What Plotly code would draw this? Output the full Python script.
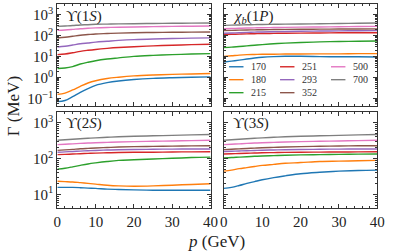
import math
import plotly.graph_objects as go

# ---------------- data ----------------
P = [0, 2, 4, 6, 8, 10, 13, 16, 20, 25, 30, 35, 40]
T_LABELS = ["170", "180", "215", "251", "293", "352", "500", "700"]
COLORS = ["#1f77b4", "#ff7f0e", "#2ca02c", "#d62728", "#9467bd", "#8c564b", "#e377c2", "#7f7f7f"]

U1S = [
    [0.072, 0.082, 0.125, 0.20, 0.30, 0.43, 0.58, 0.70, 0.82, 0.93, 1.0, 1.05, 1.1],
    [0.16, 0.185, 0.26, 0.39, 0.56, 0.72, 0.92, 1.06, 1.22, 1.35, 1.45, 1.51, 1.58],
    [2.75, 2.9, 3.4, 4.5, 5.5, 6.5, 7.8, 8.9, 10.5, 11.7, 12.6, 13.5, 14.1],
    [12.6, 13.5, 15.5, 18.2, 20.4, 22.4, 25.1, 27.5, 30.2, 33.1, 35.5, 38.0, 39.8],
    [29.5, 31.6, 36.3, 41.7, 45.7, 50.1, 55.0, 60.3, 66.1, 70.8, 74.1, 77.6, 79.4],
    [79, 85, 95, 107, 115, 123, 129, 135, 141, 145, 148, 150, 151],
    [182, 191, 204, 219, 229, 240, 251, 257, 263, 275, 282, 288, 295],
    [282, 295, 309, 331, 339, 355, 363, 372, 380, 389, 398, 403, 407],
]
CHI1P = [
    [5.6, 6.2, 6.9, 7.8, 8.7, 9.5, 10.2, 10.5, 10.5, 10.2, 10.0, 10.0, 9.8],
    [10.5, 11.2, 12.0, 12.6, 12.9, 13.2, 13.2, 13.5, 13.5, 13.8, 13.8, 14.1, 14.1],
    [27.5, 28.8, 30.9, 33.1, 35.5, 38.0, 41.7, 44.7, 47.9, 51.3, 53.7, 55.0, 56.2],
    [115, 118, 121, 124, 126, 128, 131, 133, 135, 137, 139, 140, 141],
    [132, 136, 141, 146, 150, 153, 157, 161, 165, 169, 173, 175, 178],
    [178, 182, 186, 190, 193, 196, 199, 202, 205, 208, 210, 212, 214],
    [219, 224, 230, 236, 240, 244, 249, 254, 259, 265, 272, 278, 282],
    [316, 323, 330, 337, 343, 349, 355, 361, 368, 377, 387, 397, 407],
]
U2S = [
    [15.8, 15.8, 15.8, 15.5, 15.1, 14.8, 14.1, 13.8, 13.5, 13.2, 13.2, 13.2, 13.2],
    [23.4, 22.9, 22.4, 21.4, 20.4, 19.5, 18.2, 17.4, 17.0, 17.4, 18.2, 19.1, 20.0],
    [51, 54, 59, 65, 71, 76, 83, 89, 93, 98, 102, 107, 110],
    [129, 131, 134, 137, 140, 142, 145, 148, 150, 151, 153, 154, 155],
    [151, 154, 158, 162, 166, 169, 173, 176, 179, 182, 184, 185, 186],
    [170, 175, 181, 188, 193, 198, 204, 210, 215, 219, 223, 226, 229],
    [245, 251, 258, 265, 271, 277, 284, 290, 297, 304, 310, 316, 324],
    [324, 334, 345, 357, 368, 379, 393, 405, 418, 432, 443, 458, 468],
]
U3S = [
    [14.8, 15.8, 17.8, 20.4, 22.9, 25.7, 29.5, 33.1, 38.0, 41.7, 44.7, 46.8, 47.9],
    [44.7, 47.9, 52.5, 56.2, 60.3, 64.6, 69.2, 74.1, 77.6, 83.2, 85.1, 87.1, 89.1],
    [105, 107, 110, 113, 116, 118, 121, 124, 127, 129, 131, 133, 135],
    [135, 137, 139, 141, 143, 145, 147, 149, 151, 152, 153, 154, 155],
    [158, 160, 163, 166, 168, 171, 174, 176, 179, 182, 184, 185, 186],
    [178, 182, 187, 192, 196, 200, 205, 210, 215, 220, 224, 227, 229],
    [245, 251, 258, 265, 271, 277, 284, 290, 297, 304, 310, 316, 324],
    [324, 334, 345, 357, 368, 379, 393, 405, 418, 432, 443, 458, 468],
]
PANELS = [U1S, CHI1P, U2S, U3S]
PANEL_TITLES = ["ϒ(1<i>S</i>)", "<i>χ<sub>b</sub></i>(1<i>P</i>)", "ϒ(2<i>S</i>)", "ϒ(3<i>S</i>)"]
X_TICKS = [0, 10, 20, 30, 40]
Y_TICKS_TOP = [0.1, 1, 10, 100, 1000]
Y_TICKS_BOT = [10, 100, 1000]

# ---------------- figure ----------------
FONT = "Liberation Serif"
AX = "#333333"
TXT = "#222222"
W, H = 397, 252

fig = go.Figure()
suffix = ["", "2", "3", "4"]
for k, data in enumerate(PANELS):
    xa = "x" + suffix[k]
    ya = "y" + suffix[k]
    for i, ys in enumerate(data):
        fig.add_trace(go.Scatter(x=P, y=ys, mode="lines", xaxis=xa, yaxis=ya,
                                 line=dict(color=COLORS[i], width=1.4, shape="spline", smoothing=1.0),
                                 name=T_LABELS[i], showlegend=False))

xl = [55 / W, 213 / W]
xr = [226.7 / W, 385 / W]
yt = [1 - 106 / H, 1 - 4 / H]
yb = [1 - 209 / H, 1 - 112 / H]


def minor_vals(lo, hi):
    out = []
    for e in range(lo, hi):
        for m in range(2, 10):
            out.append(m * 10 ** e)
    return out


def exp_label(v):
    e = int(round(math.log10(v)))
    return "10<sup>%s</sup>" % str(e).replace("-", "−")


def xaxis(dom, labels, anchor):
    return dict(domain=dom, range=[0, 40], anchor=anchor, showgrid=False, zeroline=False,
                showline=True, linecolor=AX, linewidth=1, mirror="allticks",
                ticks="inside", ticklen=4, tickcolor=AX, tickwidth=1,
                tickvals=X_TICKS, showticklabels=labels,
                tickfont=dict(family=FONT, size=15, color=TXT),
                minor=dict(ticks="inside", ticklen=2, tickcolor=AX, dtick=2, tick0=0, showgrid=False))


def yaxis(dom, rng, tv, labels, anchor):
    return dict(domain=dom, type="log", range=rng, anchor=anchor, showgrid=False, zeroline=False,
                showline=True, linecolor=AX, linewidth=1, mirror="allticks",
                ticks="inside", ticklen=4, tickcolor=AX, tickwidth=1,
                tickvals=tv, ticktext=[exp_label(v) for v in tv],
                showticklabels=labels,
                tickfont=dict(family=FONT, size=15, color=TXT),
                minor=dict(ticks="inside", ticklen=2, tickcolor=AX, tickmode="array",
                           tickvals=minor_vals(-2, 4), showgrid=False))


TOP_R = [-1.33, 3.52]
BOT_R = [0.62, 3.31]
fig.update_layout(
    width=W, height=H, margin=dict(l=0, r=0, t=0, b=0),
    paper_bgcolor="white", plot_bgcolor="white", showlegend=False,
    xaxis=xaxis(xl, False, "y"), yaxis=yaxis(yt, TOP_R, Y_TICKS_TOP, True, "x"),
    xaxis2=xaxis(xr, False, "y2"), yaxis2=yaxis(yt, TOP_R, Y_TICKS_TOP, False, "x2"),
    xaxis3=xaxis(xl, True, "y3"), yaxis3=yaxis(yb, BOT_R, Y_TICKS_BOT, True, "x3"),
    xaxis4=xaxis(xr, True, "y4"), yaxis4=yaxis(yb, BOT_R, Y_TICKS_BOT, False, "x4"),
)

# panel labels
for k, t in enumerate(PANEL_TITLES):
    fig.add_annotation(text=t, xref="x%s domain" % suffix[k], yref="y%s domain" % suffix[k],
                       x=0.045, y=0.985, xanchor="left", yanchor="top", showarrow=False,
                       font=dict(family=FONT, size=15, color=TXT))

# axis titles
fig.add_annotation(text="<i>p</i> (GeV)", xref="paper", yref="paper", x=219 / W, y=1 - 242 / H,
                   xanchor="center", yanchor="middle", showarrow=False,
                   font=dict(family=FONT, size=17, color=TXT))
fig.add_annotation(text="Γ (MeV)", xref="paper", yref="paper", x=10 / W, y=1 - 107 / H,
                   xanchor="center", yanchor="middle", textangle=-90, showarrow=False,
                   font=dict(family=FONT, size=17, color=TXT))

# legend (3 columns, column-major) inside the top-right panel
rows_y = [0.382, 0.255, 0.127]
for i, lab in enumerate(T_LABELS):
    c, r = divmod(i, 3)
    x0 = 0.034 + 0.332 * c
    fig.add_shape(type="line", xref="x2 domain", yref="y2 domain",
                  x0=x0, x1=x0 + 0.094, y0=rows_y[r], y1=rows_y[r],
                  line=dict(color=COLORS[i], width=1.4))
    fig.add_annotation(text=lab, xref="x2 domain", yref="y2 domain", x=x0 + 0.13, y=rows_y[r],
                       xanchor="left", yanchor="middle", showarrow=False,
                       font=dict(family=FONT, size=10, color="#333"))

fig.write_html("out.html", config={"displayModeBar": False},
               post_script="document.body.style.margin='0px';document.body.style.padding='0px';")
